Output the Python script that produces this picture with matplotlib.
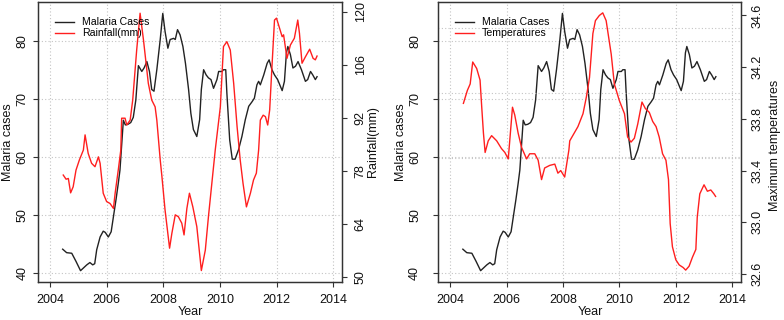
import matplotlib
matplotlib.use("Agg")
import matplotlib.pyplot as plt
from matplotlib.lines import Line2D

plt.rcParams['font.family'] = ['Liberation Sans', 'DejaVu Sans']

# ---------------- data ----------------
mal_year = [2004.45, 2004.59, 2004.77, 2004.92, 2005.08, 2005.30, 2005.41, 2005.51, 2005.58,
            2005.65, 2005.77, 2005.88, 2005.95, 2006.06, 2006.16, 2006.24, 2006.33, 2006.41,
            2006.47, 2006.53, 2006.59, 2006.66, 2006.75, 2006.85, 2006.94, 2007.03, 2007.12,
            2007.24, 2007.32, 2007.42, 2007.51, 2007.59, 2007.67, 2007.77, 2007.89, 2007.98,
            2008.06, 2008.16, 2008.24, 2008.36, 2008.42, 2008.50, 2008.59, 2008.69, 2008.78,
            2008.89, 2008.97, 2009.06, 2009.18, 2009.28, 2009.34, 2009.42, 2009.51, 2009.59,
            2009.68, 2009.77, 2009.89, 2009.95, 2010.07, 2010.12, 2010.20, 2010.24, 2010.34,
            2010.43, 2010.53, 2010.65, 2010.77, 2010.89, 2011.01, 2011.13, 2011.21, 2011.30,
            2011.36, 2011.42, 2011.54, 2011.66, 2011.73, 2011.83, 2011.92, 2012.03, 2012.19,
            2012.27, 2012.34, 2012.39, 2012.48, 2012.57, 2012.66, 2012.75, 2012.87, 2013.01,
            2013.09, 2013.19, 2013.27, 2013.36, 2013.42]
mal_cases = [44.1, 43.5, 43.4, 42.0, 40.4, 41.4, 41.8, 41.4, 41.6,
             44.0, 46.2, 47.2, 47.0, 46.2, 47.1, 49.7, 52.6, 55.4,
             57.7, 62.0, 66.3, 65.5, 65.6, 65.9, 66.8, 69.8, 75.7,
             74.7, 75.3, 76.4, 74.7, 71.6, 71.3, 75.0, 80.2, 84.7,
             81.6, 78.7, 80.2, 80.4, 80.2, 81.9, 81.0, 79.0, 76.1,
             71.6, 67.5, 64.7, 63.5, 66.4, 71.6, 75.0, 74.1, 73.6,
             73.3, 71.8, 73.3, 74.7, 74.7, 75.0, 75.0, 71.0, 62.9,
             59.6, 59.6, 61.2, 63.5, 66.4, 68.7, 69.5, 70.1, 72.4,
             73.0, 72.4, 74.1, 76.1, 76.7, 75.0, 74.1, 73.3, 71.4,
             73.0, 77.9, 79.0, 77.6, 75.3, 75.6, 76.4, 75.0, 73.0,
             73.3, 74.7, 74.1, 73.3, 73.8]

rain_year = [2004.47, 2004.57, 2004.65, 2004.73, 2004.82, 2004.92, 2005.04, 2005.18, 2005.24,
             2005.35, 2005.47, 2005.59, 2005.71, 2005.77, 2005.88, 2006.00, 2006.12, 2006.24,
             2006.30, 2006.41, 2006.50, 2006.53, 2006.65, 2006.71, 2006.83, 2006.92, 2007.06,
             2007.18, 2007.30, 2007.47, 2007.59, 2007.71, 2007.77, 2007.89, 2007.95, 2008.06,
             2008.22, 2008.30, 2008.42, 2008.53, 2008.65, 2008.73, 2008.83, 2008.92, 2009.04,
             2009.18, 2009.34, 2009.48, 2009.59, 2009.71, 2009.83, 2010.01, 2010.12, 2010.24,
             2010.36, 2010.48, 2010.60, 2010.71, 2010.81, 2010.93, 2011.07, 2011.18, 2011.28,
             2011.36, 2011.42, 2011.52, 2011.60, 2011.68, 2011.75, 2011.83, 2011.92, 2011.99,
             2012.10, 2012.19, 2012.24, 2012.36, 2012.48, 2012.62, 2012.74, 2012.80, 2012.89,
             2013.01, 2013.16, 2013.28, 2013.36, 2013.42]
rain_mm = [76.9, 75.8, 76.0, 72.2, 73.8, 78.2, 80.9, 83.5, 87.5,
           82.6, 80.0, 79.1, 81.7, 80.0, 72.1, 69.9, 69.4, 68.1,
           72.1, 78.2, 83.5, 91.9, 91.9, 90.1, 91.4, 96.7, 109.9,
           119.6, 112.5, 101.1, 96.7, 94.9, 91.4, 80.9, 76.5, 67.7,
           57.6, 61.5, 66.4, 65.9, 64.2, 61.1, 68.1, 72.1, 68.5,
           63.3, 51.7, 57.1, 65.9, 74.7, 83.5, 94.9, 110.8, 112.1,
           109.9, 101.1, 89.7, 80.9, 74.7, 68.5, 72.1, 75.6, 77.4,
           83.5, 91.4, 92.7, 92.3, 90.1, 94.1, 105.5, 117.8, 118.3,
           115.6, 113.4, 113.9, 107.7, 111.2, 113.0, 117.8, 114.3, 106.4,
           108.1, 110.1, 107.7, 107.3, 108.3]

temp_year = [2004.47, 2004.61, 2004.71, 2004.80, 2004.94, 2005.06, 2005.12, 2005.18, 2005.24,
             2005.35, 2005.47, 2005.65, 2005.82, 2005.94, 2006.06, 2006.21, 2006.29, 2006.41,
             2006.53, 2006.71, 2006.82, 2007.00, 2007.12, 2007.24, 2007.35, 2007.53, 2007.71,
             2007.82, 2007.92, 2008.06, 2008.21, 2008.24, 2008.53, 2008.71, 2008.83, 2008.94,
             2009.06, 2009.15, 2009.29, 2009.41, 2009.53, 2009.71, 2009.82, 2010.00, 2010.18,
             2010.29, 2010.41, 2010.53, 2010.65, 2010.80, 2010.92, 2011.06, 2011.18, 2011.30,
             2011.41, 2011.53, 2011.65, 2011.74, 2011.80, 2011.88, 2012.00, 2012.12, 2012.26,
             2012.35, 2012.47, 2012.59, 2012.71, 2012.76, 2012.85, 2013.00, 2013.12, 2013.24,
             2013.35, 2013.41]
temp_max = [33.92, 34.02, 34.07, 34.24, 34.19, 34.10, 33.89, 33.69, 33.54,
            33.63, 33.67, 33.63, 33.57, 33.54, 33.49, 33.89, 33.83, 33.69,
            33.58, 33.49, 33.53, 33.53, 33.48, 33.33, 33.42, 33.44, 33.45,
            33.38, 33.40, 33.35, 33.56, 33.63, 33.74, 33.84, 33.97, 34.12,
            34.46, 34.56, 34.60, 34.62, 34.56, 34.30, 34.07, 33.94, 33.84,
            33.66, 33.62, 33.65, 33.76, 33.93, 33.88, 33.85, 33.78, 33.74,
            33.66, 33.53, 33.48, 33.33, 32.99, 32.81, 32.71, 32.67, 32.65,
            32.63, 32.66, 32.73, 32.79, 33.04, 33.22, 33.29, 33.24, 33.25,
            33.22, 33.20]

year_ticks = [2004, 2006, 2008, 2010, 2012, 2014]
case_ticks = [40, 50, 60, 70, 80]
rain_ticks = [50, 64, 78, 92, 106, 120]
temp_ticks = [32.6, 33.0, 33.4, 33.8, 34.2, 34.6]
temp_grid = [33.0, 33.5, 34.0, 34.5]

# ---------------- style ----------------
W, H = 784, 320
BLACK = '#222222'
RED = '#ff1f1f'
AXC = '#333333'
GRIDC = '#c4c4c4'
GRIDLS = (0, (1, 2))
FS = 9
LFS = 7.6

fig = plt.figure(figsize=(W / 100, H / 100), dpi=100)


def fx(px):
    return px / W


def fy(py):
    return 1 - py / H


def setup(left_px, right_px, ylim, pad_left, pad_right, x2lim, y2ticks, y2fmt):
    ax = fig.add_axes([fx(left_px), fy(282), (right_px - left_px) / W, 280 / H])
    ax.set_xlim(2003.58, 2014.3)
    ax.set_ylim(*ylim)
    ax.set_xticks(year_ticks)
    ax.set_yticks(case_ticks)
    ax.grid(True, color=GRIDC, linestyle=GRIDLS, linewidth=0.8)
    ax.set_axisbelow(True)
    for s in ax.spines.values():
        s.set_color(AXC)
        s.set_linewidth(0.9)
    ax.tick_params(axis='both', direction='out', length=3.6, width=0.8, color=AXC,
                   labelsize=FS, labelcolor='#111111')
    ax.tick_params(axis='x', pad=5)
    ax.tick_params(axis='y', pad=pad_left)
    for lbl in ax.get_yticklabels():
        lbl.set_rotation(90)
        lbl.set_va('center')
    ax2 = ax.twinx()
    ax2.set_ylim(*x2lim)
    ax2.set_yticks(y2ticks)
    ax2.set_yticklabels([y2fmt(v) for v in y2ticks])
    ax2.tick_params(axis='y', direction='out', length=3.6, width=0.8, color=AXC,
                    labelsize=FS, labelcolor='#111111', pad=pad_right)
    for lbl in ax2.get_yticklabels():
        lbl.set_rotation(90)
        lbl.set_va('center')
    for s in ax2.spines.values():
        s.set_color(AXC)
        s.set_linewidth(0.9)
    return ax, ax2


def add_legend(ax2, labels, anchor_x):
    handles = [Line2D([], [], color=BLACK, lw=1.0), Line2D([], [], color=RED, lw=1.0)]
    leg = ax2.legend(handles, labels, loc='upper left',
                     bbox_to_anchor=(anchor_x, 1 - 10.2 / 280), borderaxespad=0,
                     fontsize=LFS, frameon=True, fancybox=False, framealpha=0,
                     edgecolor=AXC, borderpad=0.5, labelspacing=0.08,
                     handlelength=1.8, handletextpad=0.75)
    leg.get_frame().set_linewidth(0.9)
    return leg


# ---------------- left panel ----------------
axL, axL2 = setup(38, 342, (38.45, 86.66), 3.0, 5.5, (48.68, 122.56), rain_ticks,
                  lambda v: f"{v:d}")
axL.plot(mal_year, mal_cases, color=BLACK, lw=1.0)
axL2.plot(rain_year, rain_mm, color=RED, lw=1.0)
add_legend(axL2, ['Malaria Cases', 'Rainfall(mm)'], 12 / 304)

fig.text(fx(8.5), fy(142), 'Malaria cases', rotation=90, ha='center', va='center',
         fontsize=FS, color='#111111')
fig.text(fx(373.5), fy(142), 'Rainfall(mm)', rotation=90, ha='center', va='center',
         fontsize=FS, color='#111111')
fig.text(fx(190), fy(312), 'Year', ha='center', va='center', fontsize=FS, color='#111111')

# ---------------- right panel ----------------
axR, axR2 = setup(438.3, 740.7, (38.45, 86.66), 8.8, 4.5, (32.538, 34.704), temp_ticks,
                  lambda v: f"{v:.1f}")
axR2.set_yticks(temp_grid, minor=True)
axR2.tick_params(axis='y', which='minor', length=0)
axR2.grid(True, which='minor', axis='y', color=GRIDC, linestyle=GRIDLS, linewidth=0.8)
axR2.set_axisbelow(True)
axR.plot(mal_year, mal_cases, color=BLACK, lw=1.0)
axR2.plot(temp_year, temp_max, color=RED, lw=1.0)
add_legend(axR2, ['Malaria Cases', 'Temperatures'], 11.7 / 302.4)

fig.text(fx(401.5), fy(142), 'Malaria cases', rotation=90, ha='center', va='center',
         fontsize=FS, color='#111111')
fig.text(fx(775), fy(145), 'Maximum temperatures', rotation=90, ha='center', va='center',
         fontsize=FS, color='#111111')
fig.text(fx(590), fy(312), 'Year', ha='center', va='center', fontsize=FS, color='#111111')

fig.savefig('out.png', dpi=100, facecolor='white')
